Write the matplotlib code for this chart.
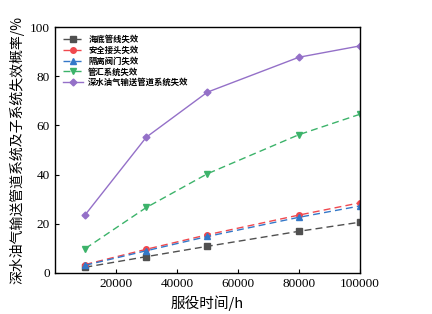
import matplotlib
matplotlib.use('Agg')
import matplotlib.pyplot as plt

plt.rcParams['font.family'] = ['Liberation Serif', 'Noto Sans CJK SC']

hours = [10000, 30000, 50000, 80000, 100000]
pipeline = [2.3, 6.6, 10.8, 16.9, 20.6]
joint = [3.4, 9.6, 15.5, 23.5, 28.5]
valve = [3.1, 9.0, 14.8, 22.6, 27.2]
manifold = [9.9, 26.6, 40.3, 56.2, 64.5]
system = [23.7, 55.2, 73.5, 87.7, 92.3]

labels = ['海底管线失效', '安全接头失效', '隔离阀门失效', '管汇系统失效', '深水油气输送管道系统失效']
xticks = [20000, 40000, 60000, 80000, 100000]
yticks = [0, 20, 40, 60, 80, 100]

fig = plt.figure(figsize=(4.32, 3.14), dpi=100)
ax = fig.add_axes([0.127, 0.131, 0.706, 0.783])

dash = (5, 3)
ax.plot(hours, pipeline, '--s', color='#505050', lw=1, ms=4, dashes=dash, label=labels[0])
ax.plot(hours, joint, '--o', color='#f0484e', lw=1, ms=4, dashes=dash, label=labels[1])
ax.plot(hours, valve, '--^', color='#3478c8', lw=1, ms=4, dashes=dash, label=labels[2])
ax.plot(hours, manifold, '--v', color='#3cb36a', lw=1, ms=4.5, dashes=dash, label=labels[3])
ax.plot(hours, system, '-D', color='#9470c8', lw=1, ms=3.5, label=labels[4])

ax.set_xlim(0, 100000)
ax.set_ylim(0, 100)
ax.set_xticks(xticks)
ax.set_yticks(yticks)
ax.tick_params(direction='in', length=3, labelsize=9.5)
for s in ax.spines.values():
    s.set_linewidth(1)

ax.set_xlabel('服役时间/h', fontsize=10.5, family=['Noto Sans CJK SC'])
ax.set_ylabel('深水油气输送管道系统及子系统失效概率/%', fontsize=10, family=['Noto Sans CJK SC'])

leg = ax.legend(loc='upper left', frameon=False,
                prop={'family': ['Noto Sans CJK SC'], 'size': 6, 'weight': 'bold'},
                handlelength=2.4, handletextpad=0.6, labelspacing=0.2,
                borderaxespad=0.6)

fig.savefig('out.png', dpi=100)
